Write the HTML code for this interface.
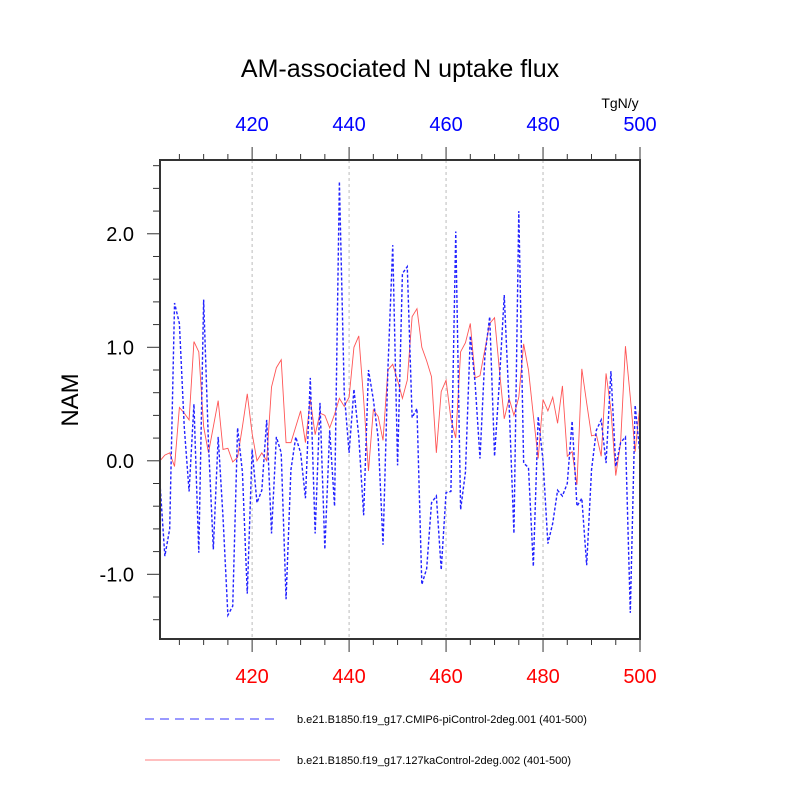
<!DOCTYPE html>
<html><head><meta charset="utf-8"><style>
body{margin:0;background:#fff}
svg text{font-family:"Liberation Sans",sans-serif}
</style></head><body>
<svg id="chart" width="800" height="800" viewBox="0 0 800 800" xmlns="http://www.w3.org/2000/svg">
<text x="400" y="77" font-size="25" text-anchor="middle">AM-associated N uptake flux</text>
<text x="620" y="108" font-size="14" text-anchor="middle">TgN/y</text>
<text transform="translate(78,400) rotate(-90)" font-size="24" text-anchor="middle">NAM</text>
<g id="grid"></g>
<g id="series"></g>
<rect x="160" y="160" width="480" height="479" fill="none" stroke="#333" stroke-width="2"/>
<g id="axes"></g>
<g>
<line x1="145" y1="719" x2="278" y2="719" stroke="#33f" stroke-width="1" stroke-dasharray="9,6"/>
<text x="297" y="723" font-size="11">b.e21.B1850.f19_g17.CMIP6-piControl-2deg.001 (401-500)</text>
<line x1="145" y1="760" x2="280" y2="760" stroke="#f55" stroke-width="0.8"/>
<text x="297" y="764" font-size="11">b.e21.B1850.f19_g17.127kaControl-2deg.002 (401-500)</text>
</g>
</svg>
<script>
const years = [];
for (let y = 401; y <= 500; y++) years.push(y);
const blueValues = [-0.2,-0.84,-0.6,1.39,1.21,0.3,-0.27,0.5,-0.81,1.42,0.15,-0.78,0.21,-0.5,-1.36,-1.28,0.29,-0.1,-1.17,0.1,
-0.37,-0.26,0.36,-0.64,0.21,0.07,-1.22,-0.08,0.21,0.07,-0.33,0.73,-0.64,0.51,-0.78,0.27,-0.4,2.46,0.6,0.07,
0.63,0.21,-0.48,0.8,0.54,0.2,-0.74,0.8,1.9,-0.04,1.65,1.71,0.38,0.46,-1.09,-0.95,-0.37,-0.31,-0.96,-0.28,
-0.27,2.02,-0.43,-0.1,1.1,0.68,0.02,0.92,1.27,0.04,0.7,1.46,0.5,-0.64,2.2,-0.02,-0.06,-0.93,0.39,0.0,
-0.73,-0.55,-0.26,-0.31,-0.2,0.35,-0.4,-0.33,-0.92,-0.08,0.27,0.36,-0.02,0.79,-0.05,0.16,0.21,-1.34,0.49,0.05];
const redValues = [0.0,0.05,0.07,-0.05,0.47,0.42,0.36,1.05,0.96,0.3,0.07,0.3,0.53,0.1,0.11,-0.01,0.03,0.3,0.59,0.24,
0.0,0.07,0.0,0.65,0.82,0.89,0.16,0.16,0.3,0.44,0.16,0.54,0.23,0.42,0.4,0.29,0.41,0.55,0.48,0.56,
1.0,1.1,0.54,-0.09,0.45,0.39,0.18,0.8,0.85,0.71,0.55,0.71,1.27,1.34,1.0,0.88,0.74,0.07,0.61,0.71,
0.37,0.2,0.96,1.04,1.21,0.73,0.75,0.98,1.21,1.26,0.8,0.37,0.55,0.4,0.56,1.03,0.8,0.4,0.02,0.54,
0.44,0.56,0.33,0.66,0.04,0.08,-0.21,0.81,0.51,0.22,0.23,0.04,0.77,0.45,-0.13,0.16,1.01,0.56,0.08,0.5];
const xTicks = [420,440,460,480,500];
const yTicks = [-1.0,0.0,1.0,2.0];

const NS = "http://www.w3.org/2000/svg";
const X0=160, X1=640, Y0=160, Y1=639, XMIN=401, XMAX=500, YMIN=-1.57, YMAX=2.65;
function xs(v){return X0+(v-XMIN)/(XMAX-XMIN)*(X1-X0);}
function ys(v){return Y1-(v-YMIN)/(YMAX-YMIN)*(Y1-Y0);}
function mk(tag, attrs, parent){const e=document.createElementNS(NS,tag);for(const k in attrs)e.setAttribute(k,attrs[k]);parent.appendChild(e);return e;}
const grid=document.getElementById('grid'), series=document.getElementById('series'), axes=document.getElementById('axes');

xTicks.forEach(t=>{
  if(t<XMAX){
    const g=mk('line',{x1:xs(t),x2:xs(t),y1:Y0,y2:Y1,stroke:'#bbb','stroke-width':1,'stroke-dasharray':'3,3'},grid);
    
    
  }
  const bt=mk('text',{x:xs(t),y:683,'font-size':20,fill:'#f00','text-anchor':'middle'},axes);
  bt.textContent=t;
  
  
  const tt=mk('text',{x:xs(t),y:131,'font-size':20,fill:'#00f','text-anchor':'middle'},axes);
  tt.textContent=t;
  
  
});
for(let t=405;t<=500;t+=5){
  const major=(t%20===0);
  const L=major?13:6;
  const a=mk('line',{x1:xs(t),x2:xs(t),y1:Y1,y2:Y1+L,stroke:'#333','stroke-width':1},axes);
  
  
  const b=mk('line',{x1:xs(t),x2:xs(t),y1:Y0,y2:Y0-L,stroke:'#333','stroke-width':1},axes);
  
  
}
for(let i=-7;i<=13;i++){
  const v=i*0.2;
  const major=(i%5===0);
  const L=major?13:7;
  const a=mk('line',{x1:X0,x2:X0-L,y1:ys(v),y2:ys(v),stroke:'#333','stroke-width':1},axes);
  
  
}
yTicks.forEach(t=>{
  const e=mk('text',{x:134,y:ys(t)+7,'font-size':20,'text-anchor':'end'},axes);
  e.textContent=t.toFixed(1);
  
  
});
function pts(vals){return vals.map((v,i)=>xs(years[i]).toFixed(2)+','+ys(v).toFixed(2)).join(' ');}
const red=mk('polyline',{points:pts(redValues),fill:'none',stroke:'#f55','stroke-width':0.9},series);


const blue=mk('polyline',{points:pts(blueValues),fill:'none',stroke:'#22f','stroke-width':1.4,'stroke-dasharray':'3,2'},series);


</script>
</body></html>
